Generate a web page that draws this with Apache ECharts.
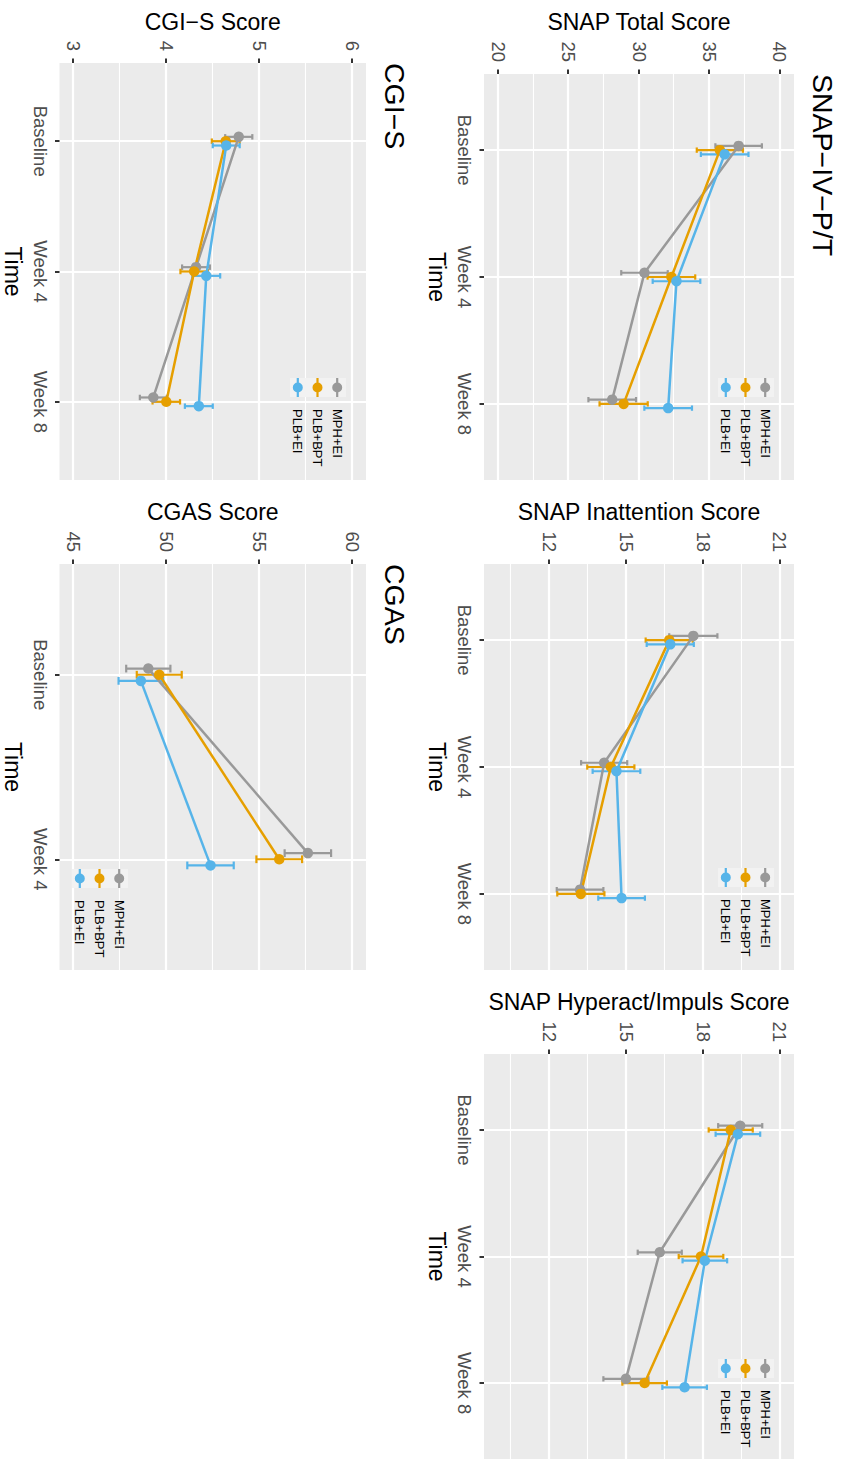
<!DOCTYPE html>
<html>
<head>
<meta charset="utf-8">
<script src="https://cdn.jsdelivr.net/npm/echarts@6.0.0/dist/echarts.min.js"></script>
<style>
html, body { margin: 0; padding: 0; background: #ffffff; overflow: hidden; width: 845px; height: 1459px; }
#chart { position: absolute; left: 0; top: 0; width: 1459px; height: 845px;
  transform-origin: 0 0; transform: translate(845px, 0) rotate(90deg); background: #ffffff; }
</style>
</head>
<body>
<div id="chart"></div>
<script>
// ---------------- DATA ----------------
const timeLabels3 = ['Baseline', 'Week 4', 'Week 8'];
const timeLabels2 = ['Baseline', 'Week 4'];
const groupNames = ['MPH+EI', 'PLB+BPT', 'PLB+EI'];

// SNAP Total Score (mean, error-bar half width)
const totalMPH = [37.07, 30.39, 28.10];
const totalMPHErr = [1.65, 1.65, 1.69];
const totalBPT = [35.74, 32.30, 28.91];
const totalBPTErr = [1.64, 1.69, 1.71];
const totalEI = [36.08, 32.66, 32.07];
const totalEIErr = [1.69, 1.69, 1.69];

// SNAP Inattention Score
const inattMPH = [17.62, 14.14, 13.20];
const inattMPHErr = [0.94, 0.90, 0.91];
const inattBPT = [16.68, 14.40, 13.23];
const inattBPTErr = [0.92, 0.92, 0.92];
const inattEI = [16.72, 14.62, 14.82];
const inattEIErr = [0.92, 0.93, 0.91];

// SNAP Hyperact/Impuls Score
const hyperMPH = [19.45, 16.31, 14.99];
const hyperMPHErr = [0.86, 0.86, 0.88];
const hyperBPT = [19.08, 17.92, 15.72];
const hyperBPTErr = [0.86, 0.87, 0.87];
const hyperEI = [19.36, 18.07, 17.28];
const hyperEIErr = [0.87, 0.87, 0.87];

// CGI-S Score
const cgisMPH = [4.78, 4.32, 3.86];
const cgisMPHErr = [0.146, 0.150, 0.145];
const cgisBPT = [4.64, 4.30, 4.00];
const cgisBPTErr = [0.150, 0.148, 0.148];
const cgisEI = [4.645, 4.43, 4.35];
const cgisEIErr = [0.145, 0.150, 0.150];

// CGAS Score
const cgasMPH = [49.03, 57.62];
const cgasMPHErr = [1.19, 1.25];
const cgasBPT = [49.62, 56.08];
const cgasBPTErr = [1.21, 1.23];
const cgasEI = [48.63, 52.38];
const cgasEIErr = [1.20, 1.25];

// Tick labels / gridlines
const totalTicks = [20, 25, 30, 35, 40];
const totalMinor = [22.5, 27.5, 32.5, 37.5];
const subscaleTicks = [12, 15, 18, 21];
const subscaleMinor = [10.5, 13.5, 16.5, 19.5];
const cgisTicks = [3, 4, 5, 6];
const cgisMinor = [3.5, 4.5, 5.5];
const cgasTicks = [45, 50, 55, 60];
const cgasMinor = [47.5, 52.5, 57.5];

// ---------------- STYLE / LAYOUT ----------------
const colors = ['#999999', '#E69F00', '#56B4E9'];
const dodge = [-1 / 30, 0, 1 / 30];
const capHalf = 0.021;
const FONT = '"Liberation Sans", Arial, Helvetica, sans-serif';
const MINUS = '\u2212';

const panels = [
  { yName: 'SNAP Total Score', cats: timeLabels3, yMin: 19, yMax: 41, ticks: totalTicks, minor: totalMinor,
    means: [totalMPH, totalBPT, totalEI], errs: [totalMPHErr, totalBPTErr, totalEIErr],
    grid: { left: 74, top: 51, width: 406, height: 310 }, nameGap: 41, legend: { left: 378, top: 73.3 } },
  { yName: 'SNAP Inattention Score', cats: timeLabels3, yMin: 9.45, yMax: 21.55, ticks: subscaleTicks, minor: subscaleMinor,
    means: [inattMPH, inattBPT, inattEI], errs: [inattMPHErr, inattBPTErr, inattEIErr],
    grid: { left: 564, top: 51, width: 406, height: 310 }, nameGap: 41, legend: { left: 868, top: 73.3 } },
  { yName: 'SNAP Hyperact/Impuls Score', cats: timeLabels3, yMin: 9.45, yMax: 21.55, ticks: subscaleTicks, minor: subscaleMinor,
    means: [hyperMPH, hyperBPT, hyperEI], errs: [hyperMPHErr, hyperBPTErr, hyperEIErr],
    grid: { left: 1054, top: 51, width: 406, height: 310 }, nameGap: 41, legend: { left: 1359, top: 73.3 } },
  { yName: 'CGI' + MINUS + 'S Score', cats: timeLabels3, yMin: 2.85, yMax: 6.15, ticks: cgisTicks, minor: cgisMinor,
    means: [cgisMPH, cgisBPT, cgisEI], errs: [cgisMPHErr, cgisBPTErr, cgisEIErr],
    grid: { left: 63, top: 479, width: 417, height: 310 }, nameGap: 30, legend: { left: 378, top: 501.3 } },
  { yName: 'CGAS Score', cats: timeLabels2, yMin: 44.25, yMax: 60.75, ticks: cgasTicks, minor: cgasMinor,
    means: [cgasMPH, cgasBPT, cgasEI], errs: [cgasMPHErr, cgasBPTErr, cgasEIErr],
    grid: { left: 564, top: 479, width: 406, height: 310 }, nameGap: 41, legend: { left: 869, top: 719.3 } }
];

// legend key: horizontal error-bar stroke with a dot on top
const keyIcon = 'path://M0,4.9H19V7.1H0Z M4.5,6A5,5 0 1,1 14.5,6A5,5 0 1,1 4.5,6Z';

function errorBarRender(params, api) {
  const x = api.value(0), lo = api.value(1), hi = api.value(2);
  const pLo = api.coord([x, lo]);
  const pHi = api.coord([x, hi]);
  const dx = api.coord([x + capHalf, lo])[0] - pLo[0];
  const style = { stroke: api.visual('color'), lineWidth: 2.2, fill: null };
  return {
    type: 'group',
    children: [
      { type: 'line', shape: { x1: pLo[0], y1: pLo[1], x2: pHi[0], y2: pHi[1] }, style: style },
      { type: 'line', shape: { x1: pLo[0] - dx, y1: pLo[1], x2: pLo[0] + dx, y2: pLo[1] }, style: style },
      { type: 'line', shape: { x1: pHi[0] - dx, y1: pHi[1], x2: pHi[0] + dx, y2: pHi[1] }, style: style }
    ]
  };
}

const grids = [], xAxes = [], yAxes = [], series = [], legends = [], graphics = [];

panels.forEach(function (p, pi) {
  grids.push(Object.assign({ show: true, backgroundColor: '#EBEBEB', borderWidth: 0, containLabel: false }, p.grid));
  const catIdx = p.cats.map(function (c, i) { return i + 1; });
  xAxes.push({
    gridIndex: pi, type: 'value', min: 0.4, max: p.cats.length + 0.6,
    name: 'Time', nameLocation: 'middle', nameGap: 35.5,
    nameTextStyle: { fontSize: 23, color: '#000000', fontFamily: FONT },
    axisLine: { show: false },
    axisTick: { show: true, length: 4.5, lineStyle: { color: '#333333', width: 2 }, customValues: catIdx },
    axisLabel: { customValues: catIdx, formatter: function (v) { return p.cats[Math.round(v) - 1]; },
      fontSize: 18.5, color: '#4D4D4D', fontFamily: FONT, margin: 10 },
    splitLine: { show: true, lineStyle: { color: '#FFFFFF', width: 2.2 } }
  });
  const yMain = yAxes.length;
  yAxes.push({
    gridIndex: pi, type: 'value', min: p.yMin, max: p.yMax, position: 'left',
    name: p.yName, nameLocation: 'middle', nameRotate: 90, nameGap: p.nameGap,
    nameTextStyle: { fontSize: 23, color: '#000000', fontFamily: FONT },
    axisLine: { show: false },
    axisTick: { show: true, length: 4.5, lineStyle: { color: '#333333', width: 2 }, customValues: p.ticks },
    axisLabel: { customValues: p.ticks, fontSize: 18.5, color: '#4D4D4D', fontFamily: FONT, margin: 12 },
    splitLine: { show: true, lineStyle: { color: '#FFFFFF', width: 2.2 } }
  });
  yAxes.push({
    gridIndex: pi, type: 'value', min: p.yMin, max: p.yMax, position: 'right',
    axisLine: { show: false },
    axisTick: { show: false, customValues: p.minor },
    axisLabel: { show: false, customValues: p.minor },
    splitLine: { show: true, lineStyle: { color: '#FFFFFF', width: 1.1 } }
  });
  groupNames.forEach(function (g, gi) {
    series.push({
      type: 'line', name: g, xAxisIndex: pi, yAxisIndex: yMain,
      data: p.means[gi].map(function (m, i) { return [i + 1 + dodge[gi], m]; }),
      symbol: 'circle', symbolSize: 10.5, showSymbol: true,
      lineStyle: { color: colors[gi], width: 2.5 }, itemStyle: { color: colors[gi] },
      z: 3, silent: true
    });
  });
  groupNames.forEach(function (g, gi) {
    series.push({
      type: 'custom', name: g, xAxisIndex: pi, yAxisIndex: yMain,
      data: p.means[gi].map(function (m, i) { return [i + 1 + dodge[gi], m - p.errs[gi][i], m + p.errs[gi][i]]; }),
      encode: { x: 0, y: [1, 2] },
      renderItem: errorBarRender, itemStyle: { color: colors[gi] }, z: 2, silent: true
    });
  });
  legends.push({
    orient: 'vertical', left: p.legend.left, top: p.legend.top, padding: 0,
    data: groupNames, icon: keyIcon, itemWidth: 19, itemHeight: 12, itemGap: 6.7,
    selectedMode: false, z: 5,
    itemStyle: { borderWidth: 0 },
    textStyle: { fontSize: 13, lineHeight: 12, color: '#000000', fontFamily: FONT, padding: [0, 0, 0, 7] }
  });
  graphics.push({
    type: 'rect', left: p.legend.left, top: p.legend.top - 2.3, z: 3, silent: true,
    shape: { width: 19, height: 56 }, style: { fill: '#F2F2F2' }
  });
});

const titleStyle = { fontSize: 28.5, fontWeight: 'normal', color: '#000000', fontFamily: FONT };
const titles = [
  { text: 'SNAP' + MINUS + 'IV' + MINUS + 'P/T', left: 74, top: 8, padding: 0, textStyle: titleStyle },
  { text: 'CGI' + MINUS + 'S', left: 63, top: 436, padding: 0, textStyle: titleStyle },
  { text: 'CGAS', left: 564, top: 436, padding: 0, textStyle: titleStyle }
];

const chart = echarts.init(document.getElementById('chart'), null, { renderer: 'svg', width: 1459, height: 845 });
chart.setOption({
  animation: false,
  backgroundColor: '#FFFFFF',
  color: colors,
  title: titles,
  grid: grids,
  xAxis: xAxes,
  yAxis: yAxes,
  legend: legends,
  graphic: graphics,
  series: series
});
</script>
</body>
</html>
